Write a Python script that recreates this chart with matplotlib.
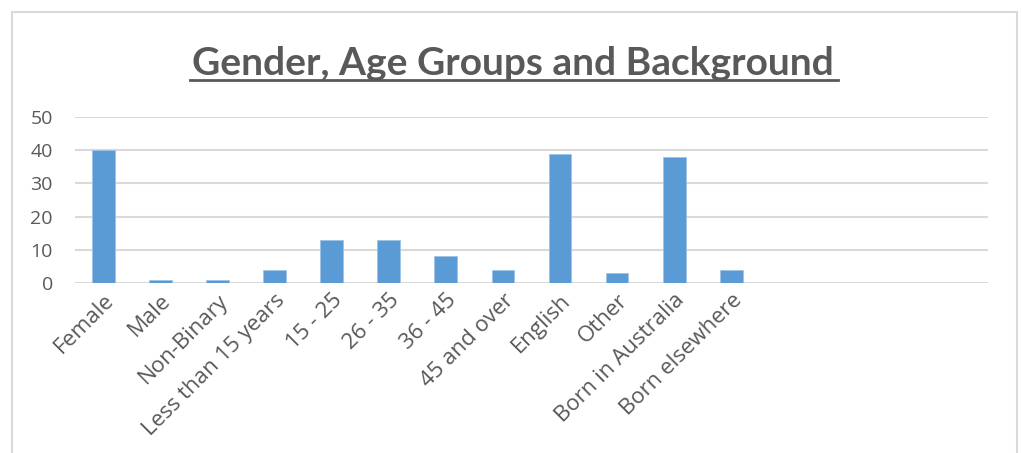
import matplotlib

matplotlib.use("Agg")
import matplotlib.pyplot as plt  # noqa: E402
from matplotlib.patches import Rectangle  # noqa: E402

TEXT = "#595959"
GRID = "#d9d9d9"
BAR = "#5b9bd5"

categories = [
    "Female", "Male", "Non-Binary", "Less than 15 years",
    "15 - 25", "26 - 35", "36 - 45", "45 and over",
    "English", "Other", "Born in Australia", "Born elsewhere",
]
counts = [40, 1, 1, 4, 13, 13, 8, 4, 39, 3, 38, 4]
# the category axis has four trailing empty slots
n_slots = 16
y_ticks = [0, 10, 20, 30, 40, 50]

plt.rcParams["font.family"] = ["Open Sans", "DejaVu Sans"]

fig = plt.figure(figsize=(10.22, 4.53), dpi=100)
ax = fig.add_axes([0.0734, 0.3753, 0.8933, 0.3664])

# chart frame, open at the bottom edge
fig.patches.append(Rectangle((12 / 1022, -0.1), 1005 / 1022, 1.1 - 12 / 453,
                             transform=fig.transFigure, fill=False,
                             edgecolor=GRID, lw=1.5, zorder=0))

x = list(range(len(categories)))
ax.bar(x, counts, width=0.4, color=BAR, edgecolor="#9dc3e6", lw=0.6, zorder=3)

ax.set_xlim(-0.5, n_slots - 0.5)
ax.set_ylim(0, 50)
ax.set_yticks(y_ticks)
ax.yaxis.grid(True, color=GRID, lw=1.5, zorder=0)
ax.set_axisbelow(True)
for s in ax.spines.values():
    s.set_visible(False)
ax.tick_params(length=0, labelcolor=TEXT)
ax.tick_params(axis="y", labelsize=14, pad=16)

ax.set_xticks(range(n_slots))
ax.set_xticklabels(categories + [""] * (n_slots - len(categories)),
                   rotation=45, ha="right", rotation_mode="anchor")
ax.tick_params(axis="x", labelsize=16, pad=5)

fig.text(0.502, 1 - 75 / 453, "Gender, Age Groups and Background",
         ha="center", va="baseline", fontsize=28, fontweight="bold",
         color=TEXT, fontfamily="Lato")
# underline under the title
fig.add_artist(plt.Line2D([190 / 1022, 838 / 1022], [1 - 80 / 453] * 2,
                          color=TEXT, lw=2))

fig.savefig("out.png", dpi=100, facecolor="white")
